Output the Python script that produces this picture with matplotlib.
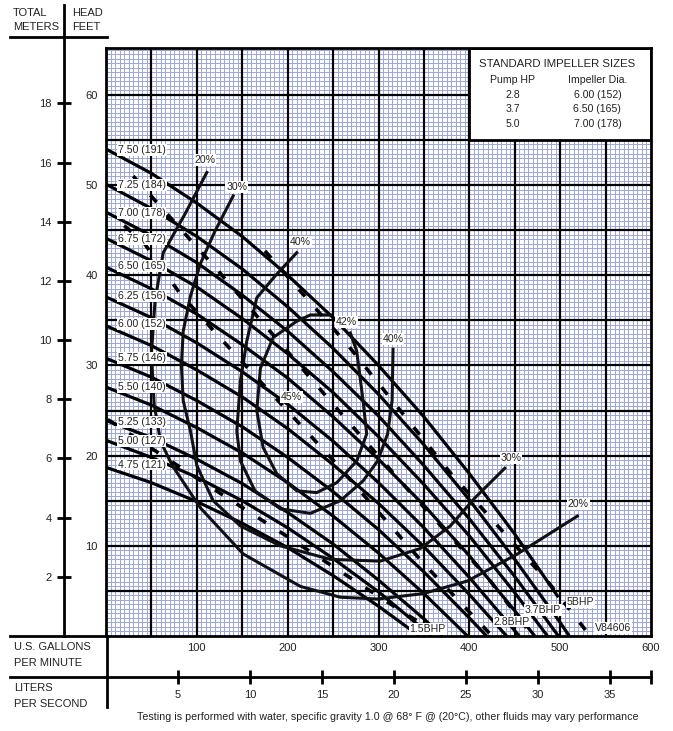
import matplotlib
matplotlib.use("Agg")
import matplotlib.pyplot as plt
from matplotlib.lines import Line2D
from matplotlib.patches import Rectangle
from matplotlib.ticker import MultipleLocator, FixedLocator

plt.rcParams['font.family'] = ['Liberation Sans', 'DejaVu Sans']

# impeller head curves: flow (US gpm) / head (ft)
imp_750 = ([0, 50, 100, 150, 200, 250, 300, 350, 400, 450, 498],
           [54.0, 51.3, 48.0, 44.3, 40.0, 35.3, 30.0, 24.3, 18.0, 11.3, 4.3])
imp_725 = ([0, 50, 100, 150, 200, 250, 300, 350, 400, 450, 500, 510],
           [50.1, 47.4, 44.3, 40.7, 36.5, 31.9, 26.8, 21.2, 15.1, 8.5, 1.5, 0.0])
imp_700 = ([0, 50, 100, 150, 200, 250, 300, 350, 400, 450, 498],
           [47.0, 44.4, 41.4, 37.8, 33.8, 29.3, 24.4, 18.9, 13.0, 6.6, 0.0])
imp_675 = ([0, 50, 100, 150, 200, 250, 300, 350, 400, 450, 486],
           [44.1, 41.6, 38.7, 35.2, 31.3, 27.0, 22.1, 16.8, 11.1, 4.8, 0.0])
imp_650 = ([0, 50, 100, 150, 200, 250, 300, 350, 400, 450, 472],
           [40.9, 38.5, 35.7, 32.3, 28.6, 24.3, 19.6, 14.5, 8.9, 2.8, 0.0])
imp_625 = ([0, 50, 100, 150, 200, 250, 300, 350, 400, 455],
           [37.6, 35.3, 32.5, 29.3, 25.7, 21.6, 17.0, 12.0, 6.5, 0.0])
imp_600 = ([0, 50, 100, 150, 200, 250, 300, 350, 400, 441],
           [34.4, 32.2, 29.5, 26.5, 23.0, 19.0, 14.7, 9.9, 4.6, 0.0])
imp_575 = ([0, 50, 100, 150, 200, 250, 300, 350, 400, 419],
           [30.8, 28.7, 26.1, 23.2, 19.8, 16.0, 11.8, 7.1, 2.0, 0.0])
imp_550 = ([0, 50, 100, 150, 200, 250, 300, 350, 398],
           [27.6, 25.6, 23.1, 20.3, 17.0, 13.3, 9.2, 4.7, 0.0])
imp_525 = ([0, 50, 100, 150, 200, 250, 300, 350, 370],
           [23.9, 22.0, 19.6, 16.9, 13.7, 10.2, 6.2, 1.9, 0.0])
imp_500 = ([0, 50, 100, 150, 200, 250, 300, 350, 358],
           [21.7, 19.8, 17.6, 15.0, 12.0, 8.6, 4.9, 0.7, 0.0])
imp_475 = ([0, 50, 100, 150, 200, 250, 300, 345],
           [18.7, 17.0, 14.9, 12.5, 9.8, 6.7, 3.3, 0.0])

impellers = [imp_750, imp_725, imp_700, imp_675, imp_650, imp_625,
             imp_600, imp_575, imp_550, imp_525, imp_500, imp_475]
imp_labels = ["7.50 (191)", "7.25 (184)", "7.00 (178)", "6.75 (172)",
              "6.50 (165)", "6.25 (156)", "6.00 (152)", "5.75 (146)",
              "5.50 (140)", "5.25 (133)", "5.00 (127)", "4.75 (121)"]
imp_label_h = [53.9, 50.0, 46.9, 44.0, 41.0, 37.7, 34.6, 30.8, 27.6, 23.7, 21.6, 19.0]

# efficiency curves
eff_20 = ([111, 87, 63, 54, 50, 53, 60, 73, 104, 151, 214, 258, 299, 349, 398, 453, 519],
          [51.4, 46.8, 42.5, 37.2, 31.3, 25.7, 21.6, 18.9, 14.2, 9.1, 5.5, 4.3, 4.1, 4.7, 6.1, 9.1, 13.3])
eff_30 = ([140, 120, 104, 93, 85, 83, 85, 93, 100, 118, 148, 192, 247, 302, 346, 379, 406, 439],
          [48.8, 44.9, 41.3, 37.7, 33.8, 30.0, 26.1, 22.7, 18.9, 15.0, 12.2, 10.0, 8.5, 8.3, 9.7, 12.2, 15.3, 18.6])
eff_40 = ([210, 186, 166, 155, 148, 144, 148, 164, 192, 225, 258, 283, 299, 310, 315, 316],
          [42.5, 39.9, 37.5, 32.7, 28.3, 22.7, 19.4, 16.1, 14.1, 13.6, 15.0, 17.2, 19.4, 22.4, 26.1, 31.8])
eff_42 = ([247, 225, 210, 184, 170, 166, 173, 188, 210, 232, 254, 276, 287, 283, 276, 269],
          [35.6, 35.6, 34.9, 33.1, 29.7, 25.0, 20.9, 18.0, 16.1, 15.9, 17.0, 19.4, 22.4, 26.1, 31.6, 33.6])
eff_labels = ["20%", "30%", "40%", "42%", "40%", "45%", "30%", "20%"]
eff_label_q = [109, 144, 214, 265, 316, 204, 446, 520]
eff_label_h = [52.8, 49.8, 43.7, 34.8, 32.9, 26.5, 19.7, 14.6]

# brake horsepower lines
bhp_50 = ([175, 265, 379, 434, 486, 533], [42.7, 32.4, 18.1, 11.9, 6.1, 0.0])
bhp_37 = ([30, 54, 126, 177, 250, 330, 420, 470], [51.0, 48.3, 40.2, 34.2, 25.7, 16.5, 6.5, 0.0])
bhp_28 = ([20, 41, 82, 137, 250, 350, 425], [45.5, 43.7, 37.9, 31.8, 19.5, 8.0, 0.0])
bhp_15 = ([2, 100, 200, 300, 345], [24.0, 17.5, 11.0, 4.4, 1.5])
bhp_lines = [bhp_50, bhp_37, bhp_28, bhp_15]
bhp_labels = ["5BHP", "3.7BHP", "2.8BHP", "1.5BHP"]
bhp_label_q = [522, 481, 447, 354]
bhp_label_h = [3.8, 2.9, 1.6, 0.8]

# standard impeller table
pump_hp = ["2.8", "3.7", "5.0"]
impeller_dia = ["6.00 (152)", "6.50 (165)", "7.00 (178)"]

gpm_ticks = [100, 200, 300, 400, 500, 600]
ft_ticks = [10, 20, 30, 40, 50, 60]
m_ticks = [2, 4, 6, 8, 10, 12, 14, 16, 18]
lps_ticks = [5, 10, 15, 20, 25, 30, 35]

W, H = 673, 731
GPM_MAX, FT_MAX = 600, 65.2
TXT = "#222222"


def fx(px):
    return px / W


def fy(py):
    return 1 - py / H


fig = plt.figure(figsize=(W / 100, H / 100), dpi=100)
ax = fig.add_axes([fx(106), fy(636), 545 / W, 588 / H])
ax.set_xlim(0, GPM_MAX)
ax.set_ylim(0, FT_MAX)

# fine blue grid, then heavy black grid on top of it
ax.xaxis.set_minor_locator(MultipleLocator(5))
ax.yaxis.set_minor_locator(MultipleLocator(0.5))
ax.grid(which="minor", color="#9ca6dc", lw=0.7)
ax.set_axisbelow(True)
for g in range(50, GPM_MAX, 50):
    ax.axvline(g, color="black", lw=1.6, zorder=1.5)
for f in range(5, 65, 5):
    ax.axhline(f, color="black", lw=1.6, zorder=1.5)
ax.xaxis.set_major_locator(FixedLocator(gpm_ticks))
ax.yaxis.set_major_locator(FixedLocator(ft_ticks))
ax.tick_params(which="both", length=0)
ax.tick_params(axis="x", pad=5, labelsize=8, colors=TXT)
ax.tick_params(axis="y", pad=6, labelsize=8, colors=TXT)
for s in ax.spines.values():
    s.set_linewidth(2.0)
    s.set_zorder(4)

for (q, h) in impellers:
    ax.plot(q, h, color="black", lw=2.3, solid_capstyle="butt", zorder=3)
for (q, h) in [eff_20, eff_30, eff_40, eff_42]:
    ax.plot(q, h, color="#111111", lw=2.2, zorder=3)
for (q, h) in bhp_lines:
    ax.plot(q, h, color="black", lw=2.6, dashes=(2.6, 4.5), zorder=3)

lbl_box = dict(facecolor="white", edgecolor="none", pad=0.6)
for text, h in zip(imp_labels, imp_label_h):
    ax.text(13, h, text, fontsize=7.6, color=TXT, ha="left", va="center", bbox=lbl_box, zorder=6)
for text, q, h in zip(eff_labels, eff_label_q, eff_label_h):
    ax.text(q, h, text, fontsize=7.6, color=TXT, ha="center", va="center", bbox=lbl_box, zorder=6)
for text, q, h in zip(bhp_labels, bhp_label_q, bhp_label_h):
    ax.text(q, h, text, fontsize=7.6, color=TXT, ha="center", va="center", bbox=lbl_box, zorder=6)
ax.text(558, 0.9, "V84606", fontsize=7.6, color=TXT, ha="center", va="center", bbox=lbl_box, zorder=6)

# impeller size table box
ax.add_patch(Rectangle((400, 55), 200, 10.2, facecolor="white", edgecolor="black", lw=2.0, zorder=4))
ax.text(497, 63.4, "STANDARD IMPELLER SIZES", fontsize=8.2, color=TXT, ha="center", va="center", zorder=5)
ax.text(448, 61.7, "Pump HP", fontsize=7.6, color=TXT, ha="center", va="center", zorder=5)
ax.text(541, 61.7, "Impeller Dia.", fontsize=7.6, color=TXT, ha="center", va="center", zorder=5)
for i, (hp, dia) in enumerate(zip(pump_hp, impeller_dia)):
    yy = 60.0 - i * 1.6
    ax.text(448, yy, hp, fontsize=7.6, color=TXT, ha="center", va="center", zorder=5)
    ax.text(541, yy, dia, fontsize=7.6, color=TXT, ha="center", va="center", zorder=5)

# meters scale
axm = fig.add_axes([fx(64), fy(636), 0.0001, 588 / H])
axm.set_ylim(0, FT_MAX * 0.3048)
axm.set_xticks([])
axm.yaxis.set_major_locator(FixedLocator(m_ticks))
axm.tick_params(axis="y", direction="inout", length=10, width=2.0, pad=4,
                labelsize=8, color="black", labelcolor=TXT)
for s in axm.spines.values():
    s.set_visible(False)
axm.patch.set_visible(False)

# liters per second scale
lps_max = GPM_MAX / 15.8503
axl = fig.add_axes([fx(106), fy(677), 545 / W, 0.0001])
axl.set_xlim(0, lps_max)
axl.set_yticks([])
axl.xaxis.set_major_locator(FixedLocator(lps_ticks + [lps_max]))
axl.xaxis.set_major_formatter(plt.FuncFormatter(lambda v, p: f"{int(v)}" if v in lps_ticks else ""))
axl.tick_params(axis="x", direction="inout", length=10, width=2.0, pad=4,
                labelsize=8, color="black", labelcolor=TXT)
for s in axl.spines.values():
    s.set_visible(False)
axl.patch.set_visible(False)

# frame lines outside the plot
frame = [((64, 64), (5, 636)), ((10, 107), (37, 37)), ((10, 106), (636, 636)),
         ((10, 651), (677, 677)), ((107, 107), (636, 707))]
for xs, ys in frame:
    fig.add_artist(Line2D([fx(x) for x in xs], [fy(y) for y in ys], color="black", lw=2.0))

txt = dict(fontsize=8, color=TXT, va="center")
fig.text(fx(13), fy(13), "TOTAL", **txt)
fig.text(fx(13), fy(27), "METERS", **txt)
fig.text(fx(72), fy(13), "HEAD", **txt)
fig.text(fx(72), fy(27), "FEET", **txt)
fig.text(fx(14), fy(647), "U.S. GALLONS", **txt)
fig.text(fx(14), fy(663), "PER MINUTE", **txt)
fig.text(fx(14), fy(688), "LITERS", **txt)
fig.text(fx(14), fy(704), "PER SECOND", **txt)
fig.text(fx(388), fy(717), "Testing is performed with water, specific gravity 1.0 @ 68\u00b0 F @ (20\u00b0C), "
         "other fluids may vary performance", fontsize=7.7, color=TXT, ha="center", va="center")

fig.savefig("out.png", dpi=100)
